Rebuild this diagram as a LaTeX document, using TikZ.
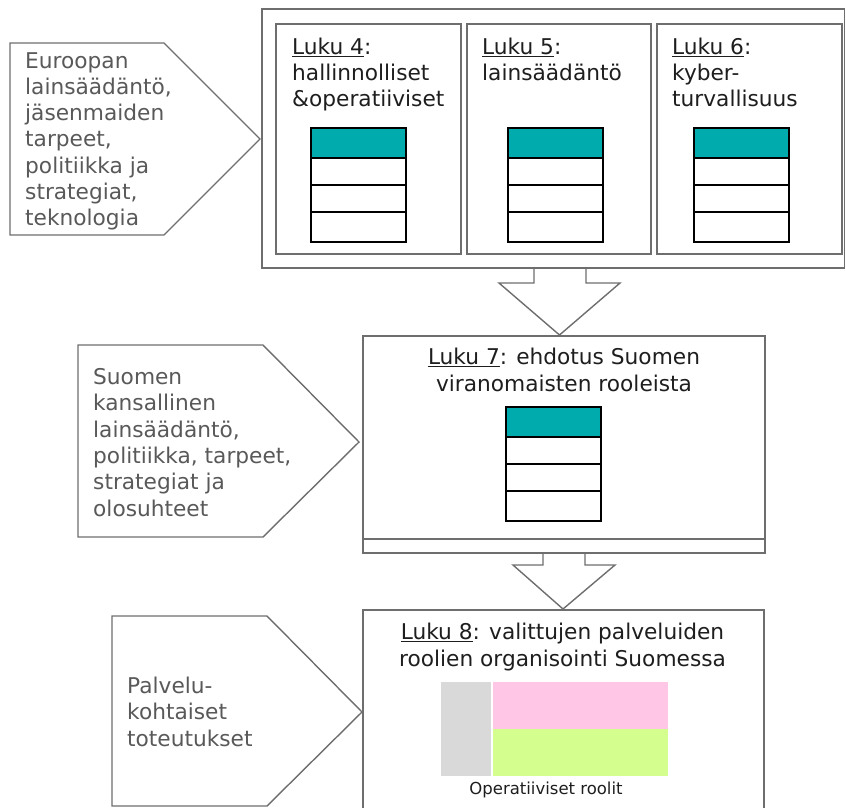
\documentclass[tikz,border=0pt]{standalone}
\usepackage{fontspec}
\setmainfont{DejaVu Sans}
\definecolor{edge}{HTML}{6E6E6E}
\definecolor{srcgray}{HTML}{595959}
\definecolor{boxtext}{HTML}{1E1E1E}
\definecolor{teal}{HTML}{00ABAE}
\definecolor{rolegray}{HTML}{D9D9D9}
\definecolor{rolepink}{HTML}{FFC6E6}
\definecolor{rolegreen}{HTML}{D4FF8E}
\newcommand{\chaptable}[2]{%
  % four-row table: teal header and three empty rows
  \fill[teal] (#1,#2) rectangle ++(95,30);
  \draw[tablerule] (#1,#2) rectangle ++(95,114);
  \draw[tablerule] (#1,#2+30) -- ++(95,0);
  \draw[tablerule] (#1,#2+57) -- ++(95,0);
  \draw[tablerule] (#1,#2+84) -- ++(95,0);
}
\begin{document}
\begin{tikzpicture}[x=1pt,y=-1pt,
  frame/.style={draw=edge, line width=1.4pt, fill=white, line join=miter},
  tablerule/.style={draw=black, line width=1.8pt},
  % multi-line nodes: the base anchor sits on the last line
  srctext/.style={anchor=base west, inner sep=0pt, align=left, text=srcgray,
    font=\fontsize{21.7}{26.3}\selectfont},
  chaptext/.style={anchor=base west, inner sep=0pt, align=left, text=boxtext,
    font=\fontsize{21.7}{26.3}\selectfont},
  chapcenter/.style={anchor=base, inner sep=0pt, align=center, text=boxtext,
    font=\fontsize{21.7}{26.3}\selectfont},
  caption/.style={anchor=base, inner sep=0pt, text=boxtext,
    font=\fontsize{16.5}{19}\selectfont},
]
\useasboundingbox (0,0) rectangle (846,807);

% block arrows between the chapter boxes
\draw[frame] (534,268) -- (534,283) -- (499,283) -- (559.5,335) -- (620,283) -- (586,283) -- (586,268);
\draw[frame] (543,553) -- (543,565) -- (513,565) -- (563,609) -- (615,565) -- (585,565) -- (585,553);

% input pentagons
\draw[frame] (10,43) -- (164,43) -- (260,139) -- (164,235) -- (10,235) -- cycle;
\draw[frame] (78,345) -- (263,345) -- (359,442) -- (263,537) -- (78,537) -- cycle;
\draw[frame] (112,616) -- (267,616) -- (362,712) -- (267,806) -- (112,806) -- cycle;

\node[srctext] (eu) at (25,225.8) {Euroopan\\lainsäädäntö,\\jäsenmaiden\\tarpeet,\\politiikka ja\\strategiat,\\teknologia};
\node[srctext] (fi) at (93,516) {Suomen\\kansallinen\\lainsäädäntö,\\politiikka, tarpeet,\\strategiat ja\\olosuhteet};
\node[srctext] (svc) at (127,746) {Palvelu-\\kohtaiset\\toteutukset};

% chapters 4-6
\draw[frame] (262,9) rectangle (844.5,268);
\draw[frame] (276,24) rectangle (461,254);
\draw[frame] (467,24) rectangle (651,254);
\draw[frame] (657,24) rectangle (842,254);
\node[chaptext] (c4) at (292,106.6) {\underline{Luku 4}:\\hallinnolliset\\\&operatiiviset};
\node[chaptext] (c5) at (482,80.3) {\underline{Luku 5}:\\lainsäädäntö};
\node[chaptext] (c6) at (672,106.6) {\underline{Luku 6}:\\kyber-\\turvallisuus};
\chaptable{311}{128}
\chaptable{508}{128}
\chaptable{694}{128}

% chapter 7
\draw[frame] (363,336) rectangle (765,553);
\draw[draw=edge, line width=1.4pt] (363,539) -- (765,539);
\node[chapcenter] (c7) at (564,391) {\underline{Luku 7}: ehdotus Suomen\\viranomaisten rooleista};
\chaptable{506}{407}

% chapter 8
\draw[frame] (363,812) -- (363,610) -- (764,610) -- (764,812);
\node[chapcenter] (c8) at (562.5,666) {\underline{Luku 8}: valittujen palveluiden\\roolien organisointi Suomessa};
\fill[rolegray] (441,682) rectangle (491,776);
\fill[rolepink] (493,682) rectangle (668,729);
\fill[rolegreen] (493,729) rectangle (668,776);
\node[caption] (ops) at (546,794) {Operatiiviset roolit};
\end{tikzpicture}
\end{document}
